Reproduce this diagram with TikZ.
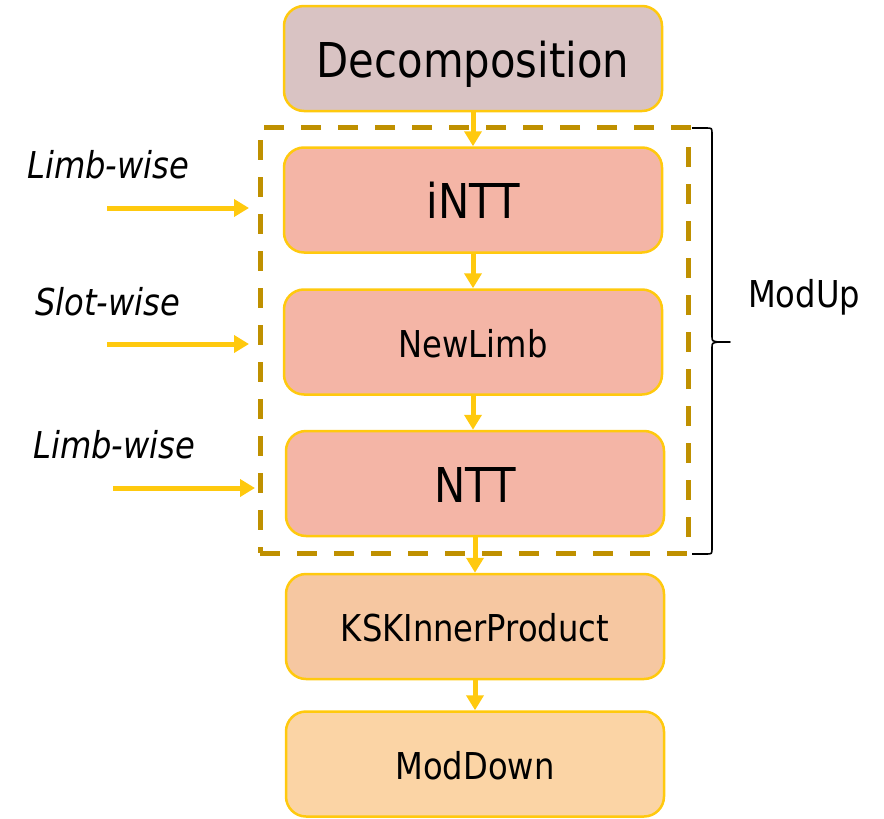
\documentclass[tikz,border=0pt]{standalone}
\usepackage{fontspec}
\setmainfont{DejaVu Sans}[FakeStretch=0.87]
\usetikzlibrary{arrows.meta}
\definecolor{gold}{HTML}{FFC90E}
\definecolor{dgold}{HTML}{BF9000}
\definecolor{cdec}{HTML}{D9C3C3}
\definecolor{cmod}{HTML}{F4B5A6}
\definecolor{cksk}{HTML}{F6C7A1}
\definecolor{cdown}{HTML}{FBD4A5}
\begin{document}
\begin{tikzpicture}[x=1pt,y=-1pt,
  box/.style={draw=gold,line width=2.5pt,rounded corners=20pt,minimum width=378pt,minimum height=105pt,inner sep=0pt,text depth=0pt},
  big/.style={font=\fontsize{48}{56}\selectfont,text height=37pt},
  mid/.style={font=\fontsize{37}{44}\selectfont,text height=30pt},
  lab/.style={font=\fontsize{37}{44}\selectfont\itshape},
  arr/.style={draw=gold,line width=5pt,-{Triangle[length=15pt,width=17pt]}},
  dashbox/.style={draw=dgold,line width=5pt,dash pattern=on 20pt off 17pt,minimum width=428pt,minimum height=426pt,inner sep=0pt}]
\useasboundingbox (0,0) rectangle (884,819);
\node[dashbox] (grp) at (474,340) {};
\node[box,fill=cdec,big] (dec) at (473,58.5) {Decomposition};
\node[box,fill=cmod,big] (intt) at (473,200) {iNTT};
\node[box,fill=cmod,mid] (nl) at (473,342) {NewLimb};
\node[box,fill=cmod,big] (ntt) at (475,483.5) {NTT};
\node[box,fill=cksk,mid] (ksk) at (475,626.5) {KSKInnerProduct};
\node[box,fill=cdown,mid] (down) at (475,764) {ModDown};
\draw[arr] (dec.south) -- (intt.north);
\draw[arr] (intt.south) -- (nl.north);
\draw[arr] (nl.south) -- (ntt.north -| nl.south);
\draw[arr] (ntt.south) -- (ksk.north);
\draw[arr] (ksk.south) -- (down.north);
\coordinate (a1) at (107,208); \coordinate (b1) at (249,208);
\coordinate (a2) at (107,344); \coordinate (b2) at (249,344);
\coordinate (a3) at (113,488); \coordinate (b3) at (255,488);
\draw[arr] (a1) -- (b1);
\draw[arr] (a2) -- (b2);
\draw[arr] (a3) -- (b3);
\node[lab,anchor=base west,inner sep=0pt] (l1) at (27,178) {Limb-wise};
\node[lab,anchor=base west,inner sep=0pt] (l2) at (35,315) {Slot-wise};
\node[lab,anchor=base west,inner sep=0pt] (l3) at (33,458) {Limb-wise};
\coordinate (bt) at (692,128);
\coordinate (bb) at (692,554);
\coordinate (tip) at (730,342);
\draw[line width=1.6pt,line join=round] (bt) -- (706,128) .. controls (712,128) .. (712,134) -- (712,336)
  .. controls (712,341) .. (718,342) -- (tip) -- (718,342) .. controls (712,343) .. (712,348)
  -- (712,548) .. controls (712,554) .. (706,554) -- (bb);
\node[mid,anchor=base west,inner sep=0pt] (mu) at (748,307) {ModUp};
\end{tikzpicture}
\end{document}
